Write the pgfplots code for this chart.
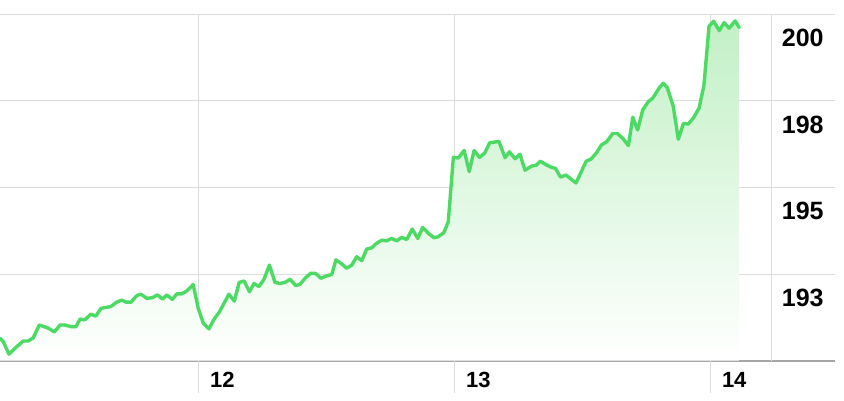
\documentclass[border=0pt]{standalone}
\usepackage{pgfplots}
\pgfplotsset{compat=1.18}
\usepackage{pgfplotstable}
\usepackage{fontspec}
\setmainfont{Liberation Sans}
\definecolor{linegreen}{RGB}{76,217,100}
\definecolor{fillgreen}{RGB}{194,240,198}
\definecolor{gridgray}{RGB}{220,220,220}
\definecolor{axisgray}{RGB}{165,165,165}
\pgfplotstableread{
x y
11.2243 190.65
11.2370 190.55
11.2595 190.19
11.2830 190.36
11.3150 190.57
11.3350 190.57
11.3540 190.66
11.3780 191.03
11.4130 190.94
11.4370 190.83
11.4590 191.03
11.4780 191.03
11.5040 190.98
11.5210 190.98
11.5370 191.20
11.5560 191.18
11.5790 191.34
11.5990 191.29
11.6190 191.51
11.6390 191.54
11.6570 191.56
11.6800 191.69
11.7000 191.75
11.7170 191.69
11.7360 191.69
11.7590 191.88
11.7750 191.92
11.7980 191.80
11.8210 191.82
11.8390 191.90
11.8600 191.78
11.8760 191.90
11.8980 191.77
11.9150 191.93
11.9340 191.93
11.9540 192.01
11.9790 192.20
11.9990 191.51
12.0190 191.08
12.0410 190.92
12.0610 191.20
12.0810 191.40
12.1000 191.66
12.1190 191.92
12.1400 191.72
12.1590 192.26
12.1780 192.30
12.1990 191.99
12.2170 192.23
12.2360 192.14
12.2560 192.35
12.2770 192.76
12.2990 192.26
12.3180 192.23
12.3380 192.26
12.3580 192.35
12.3800 192.17
12.3970 192.21
12.4190 192.40
12.4380 192.52
12.4580 192.52
12.4780 192.38
12.5010 192.45
12.5210 192.49
12.5370 192.91
12.5570 192.81
12.5790 192.67
12.5990 192.76
12.6180 193.00
12.6380 192.89
12.6570 193.22
12.6770 193.26
12.6960 193.39
12.7160 193.48
12.7350 193.46
12.7550 193.53
12.7750 193.46
12.7940 193.56
12.8140 193.50
12.8350 193.80
12.8570 193.53
12.8760 193.85
12.8980 193.68
12.9200 193.55
12.9370 193.58
12.9590 193.70
12.9760 194.01
12.9960 195.87
13.0150 195.85
13.0380 196.07
13.0580 195.46
13.0770 196.07
13.0980 195.87
13.1180 195.99
13.1380 196.29
13.1740 196.33
13.1980 195.86
13.2150 196.03
13.2370 195.83
13.2560 195.96
13.2760 195.50
13.3020 195.62
13.3190 195.64
13.3360 195.76
13.3580 195.66
13.3770 195.59
13.3950 195.55
13.4150 195.30
13.4360 195.36
13.4750 195.13
13.5150 195.76
13.5340 195.82
13.5550 196.00
13.5750 196.23
13.5950 196.32
13.6190 196.56
13.6370 196.56
13.6580 196.42
13.6800 196.21
13.6970 197.03
13.7160 196.66
13.7360 197.24
13.7580 197.48
13.7750 197.58
13.8010 197.88
13.8160 198.01
13.8320 197.88
13.8550 197.35
13.8750 196.39
13.8950 196.85
13.9140 196.83
13.9350 197.02
13.9560 197.29
13.9750 197.94
13.9950 199.65
14.0130 199.80
14.0350 199.53
14.0540 199.76
14.0740 199.60
14.0970 199.81
14.1130 199.62
}\pricedata
\begin{document}
\begin{tikzpicture}
\begin{axis}[
  scale only axis,
  width=835pt, height=346.4pt,
  xmin=11.2243, xmax=14.4873,
  ymin=190, ymax=200,
  axis x line=bottom,
  axis y line=right,
  x axis line style={-, draw=axisgray, line width=1.6pt},
  y axis line style={draw=none},
  xtick={12,13,14},
  xticklabels={12,13,14},
  extra x ticks={14.240},
  extra x tick labels={},
  extra x tick style={grid=major},
  ytick={192.5,195,197.5,200},
  yticklabels={193,195,198,200},
  xmajorgrids, ymajorgrids,
  grid style={draw=gridgray, line width=1pt},
  major tick length=0pt,
  /pgf/number format/assume math mode=true,
  xticklabel style={anchor=north west, inner sep=0pt, xshift=11.5pt, yshift=-11pt,
    font=\fontsize{22}{24}\selectfont\bfseries},
  yticklabel style={anchor=north west, inner sep=0pt, xshift=-53.3pt, yshift=-14.5pt,
    font=\fontsize{25}{27}\selectfont\bfseries},
  clip=false,
]
\addplot[draw=none, top color=fillgreen, bottom color=white]
  table[x=x, y=y] {\pricedata} -- (axis cs:14.1130,190) -- (axis cs:11.2243,190) -- cycle;
\addplot[color=linegreen, line width=3.4pt, line join=round, line cap=round, mark=none]
  table[x=x, y=y] {\pricedata};
\draw[gridgray, line width=1pt] (axis cs:12,190) -- ++(0pt,-32pt);
\draw[gridgray, line width=1pt] (axis cs:13,190) -- ++(0pt,-32pt);
\draw[gridgray, line width=1pt] (axis cs:14,190) -- ++(0pt,-32pt);
\end{axis}
\pgfresetboundingbox
\useasboundingbox (0pt,-39.3pt) rectangle (844pt,360.7pt);
\end{tikzpicture}
\end{document}
